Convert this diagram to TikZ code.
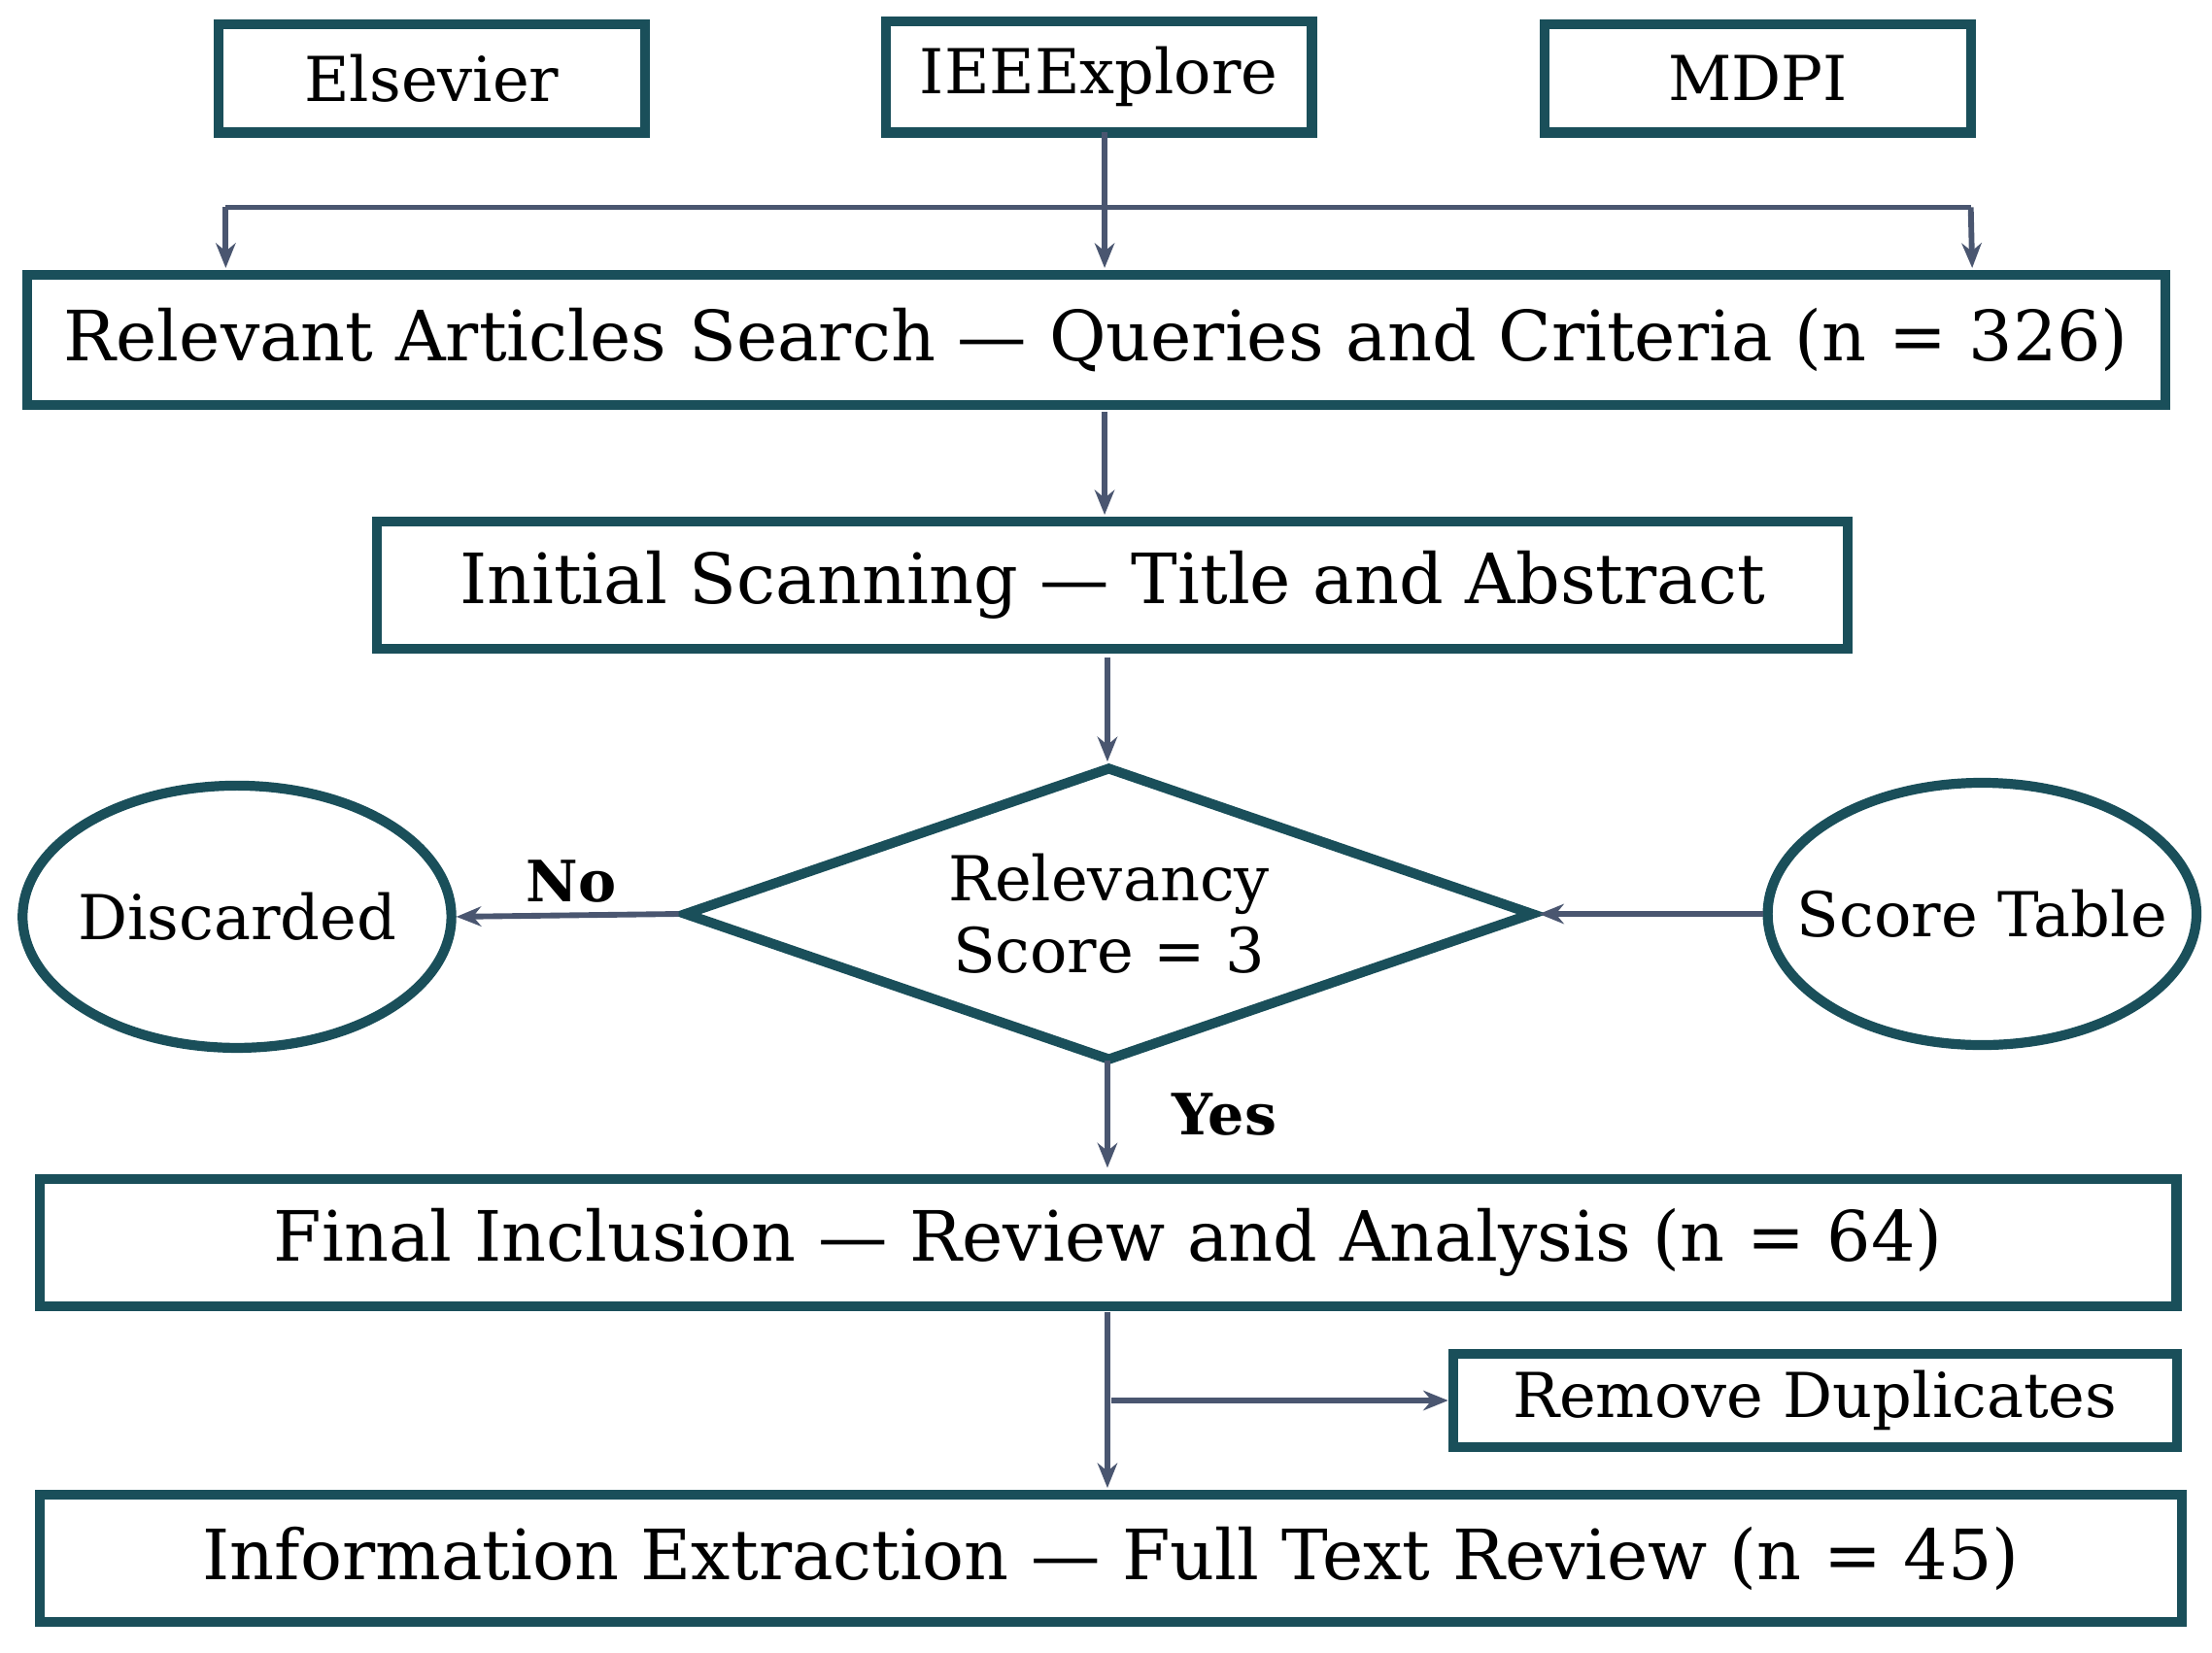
\documentclass[tikz,border=0pt]{standalone}
\usepackage{fontspec}
\setmainfont{DejaVu Serif}
\usetikzlibrary{shapes.geometric,arrows.meta}
\definecolor{bord}{HTML}{1A4F5A}
\definecolor{arr}{HTML}{4A5670}
\begin{document}
\begin{tikzpicture}[x=0.02cm,y=-0.02cm,
 box/.style={draw=bord,line width=4pt,inner sep=0pt,font=\fontsize{28}{32}\selectfont},
 sbox/.style={box,font=\fontsize{25}{29}\selectfont},
 ell/.style={ellipse,draw=bord,line width=4pt,inner ysep=0pt,inner xsep=-0.5cm,minimum width=6.08cm,minimum height=3.72cm,font=\fontsize{25}{29}\selectfont},
 ar/.style={draw=arr,line width=2.3pt,-{Stealth[length=10pt,width=8pt]}},
 ln/.style={draw=arr,line width=2.3pt},
 lab/.style={font=\fontsize{23}{27}\selectfont\bfseries}]
\useasboundingbox (0,0) rectangle (1568,1172);
\node[sbox,minimum width=6.04cm,minimum height=1.54cm] (els) at (306,55.5) {Elsevier};
\node[sbox,minimum width=6.04cm,minimum height=1.58cm] (ieee) at (779,54.5) {IEEExplore};
\node[sbox,minimum width=6.04cm,minimum height=1.54cm] (mdpi) at (1246,55.5) {MDPI};
\node[box,minimum width=30.32cm,minimum height=1.84cm] (b1) at (777,241) {Relevant Articles Search — Queries and Criteria (n = 326)};
\node[box,minimum width=20.86cm,minimum height=1.8cm] (b2) at (788.5,415) {Initial Scanning — Title and Abstract};
\node[diamond,aspect=2.9,draw=bord,line width=4pt,inner sep=0pt,minimum width=12.06cm,minimum height=4.18cm,align=center,font=\fontsize{25}{29}\selectfont] (d) at (786,648) {Relevancy\\Score = 3};
\node[ell] (disc) at (168,650) {Discarded};
\node[ell] (score) at (1405,648) {Score Table};
\node[box,minimum width=30.3cm,minimum height=1.8cm] (b3) at (785.5,881) {Final Inclusion — Review and Analysis (n = 64)};
\node[sbox,minimum width=10.26cm,minimum height=1.32cm] (rd) at (1286.5,993) {Remove Duplicates};
\node[box,minimum width=30.38cm,minimum height=1.8cm] (b4) at (787.5,1105) {Information Extraction — Full Text Review (n = 45)};
\coordinate (bl) at (160,147); \coordinate (br) at (1397,147);
\coordinate (it) at (783,94);
\draw[ln] (bl) -- (br);
\draw[ar] (it) -- (783,190);
\draw[ar] (bl) -- (160,190);
\draw[ar] (br) -- (1398,190);
\draw[ar] (783,292) -- (783,365);
\draw[ar] (785,466) -- (785,540);
\draw[ar] (d.west) -- (disc.east);
\draw[ar] (score.west) -- (d.east);
\node[lab] at (405,625) {No};
\draw[ar] (785,752) -- (785,828);
\node[lab] at (868,790) {Yes};
\draw[ar] (785,930) -- (785,1055);
\draw[ar] (788,993) -- (rd.west);
\end{tikzpicture}
\end{document}
